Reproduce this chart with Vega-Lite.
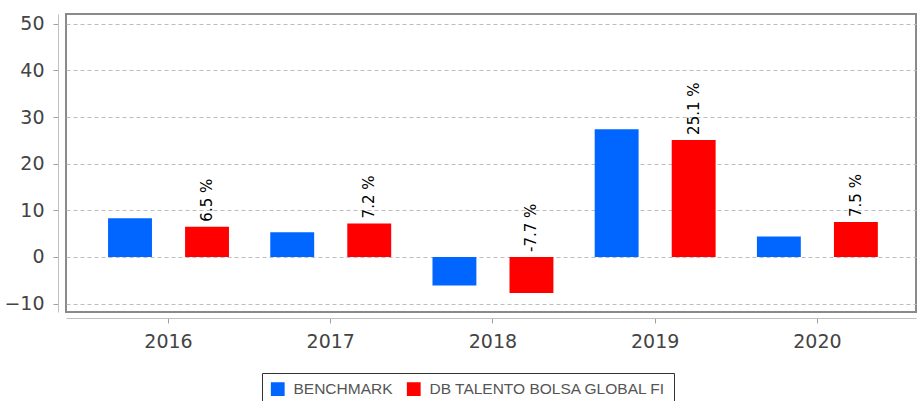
{
  "$schema": "https://vega.github.io/schema/vega-lite/v6.json",
  "width": 850,
  "height": 298,
  "autosize": {"type": "none"},
  "padding": {"left": 66, "top": 14, "right": 1, "bottom": 89},
  "background": "white",
  "config": {
    "view": {"stroke": "#8a8a8a", "strokeWidth": 2},
    "font": "DejaVu Sans"
  },
  "data": {
    "values": [
      {"year": "2016", "series": "BENCHMARK", "value": 8.3, "label": "8.3 %"},
      {"year": "2016", "series": "DB TALENTO BOLSA GLOBAL FI", "value": 6.5, "label": "6.5 %"},
      {"year": "2017", "series": "BENCHMARK", "value": 5.3, "label": "5.3 %"},
      {"year": "2017", "series": "DB TALENTO BOLSA GLOBAL FI", "value": 7.2, "label": "7.2 %"},
      {"year": "2018", "series": "BENCHMARK", "value": -6.1, "label": "-6.1 %"},
      {"year": "2018", "series": "DB TALENTO BOLSA GLOBAL FI", "value": -7.7, "label": "-7.7 %"},
      {"year": "2019", "series": "BENCHMARK", "value": 27.4, "label": "27.4 %"},
      {"year": "2019", "series": "DB TALENTO BOLSA GLOBAL FI", "value": 25.1, "label": "25.1 %"},
      {"year": "2020", "series": "BENCHMARK", "value": 4.4, "label": "4.4 %"},
      {"year": "2020", "series": "DB TALENTO BOLSA GLOBAL FI", "value": 7.5, "label": "7.5 %"}
    ]
  },
  "encoding": {
    "x": {
      "field": "year",
      "type": "nominal",
      "scale": {"paddingInner": 0, "paddingOuter": 0.12, "align": 0.55},
      "axis": {
        "title": null,
        "labelAngle": 0,
        "offset": 6,
        "tickSize": 5,
        "labelPadding": 9,
        "domainColor": "#c0c0c0",
        "tickColor": "#a0a0a0",
        "labelFontSize": 19,
        "labelFont": "DejaVu Sans",
        "labelColor": "#444444",
        "grid": false
      }
    },
    "xOffset": {
      "field": "series",
      "type": "nominal",
      "scale": {"paddingInner": 0.43, "paddingOuter": 0.268}
    }
  },
  "layer": [
    {
      "mark": {"type": "bar"},
      "encoding": {
        "y": {
          "field": "value",
          "type": "quantitative",
          "scale": {"domain": [-11.8, 52.1], "nice": false, "zero": false},
          "axis": {
            "title": null,
            "values": [-10, 0, 10, 20, 30, 40, 50],
            "offset": 8,
            "tickSize": 5,
            "labelPadding": 9,
            "domainColor": "#c0c0c0",
            "tickColor": "#a0a0a0",
            "labelFontSize": 19,
            "labelFont": "DejaVu Sans",
            "labelColor": "#444444",
            "grid": true,
            "gridColor": "#bdbdbd",
            "gridDash": [4, 3],
            "gridWidth": 1
          }
        },
        "color": {
          "field": "series",
          "type": "nominal",
          "scale": {
            "domain": ["BENCHMARK", "DB TALENTO BOLSA GLOBAL FI"],
            "range": ["#0066ff", "#ff0000"]
          },
          "legend": {
            "title": null,
            "orient": "none",
            "direction": "horizontal",
            "legendX": 196,
            "legendY": 359,
            "strokeColor": "#333333",
            "padding": 8,
            "symbolType": "square",
            "symbolSize": 190,
            "symbolStrokeWidth": 0,
            "labelFont": "Liberation Sans",
            "labelFontSize": 15.5,
            "labelColor": "#555555",
            "labelOffset": 8,
            "labelLimit": 0,
            "columnPadding": 13
          }
        }
      }
    },
    {
      "transform": [{"filter": "datum.series == 'DB TALENTO BOLSA GLOBAL FI' && datum.value >= 0"}],
      "mark": {"type": "text", "angle": 270, "align": "left", "baseline": "middle", "dx": 5, "fontSize": 15, "font": "DejaVu Sans", "color": "#000000"},
      "encoding": {
        "y": {"field": "value", "type": "quantitative"},
        "text": {"field": "label", "type": "nominal"}
      }
    },
    {
      "transform": [{"filter": "datum.series == 'DB TALENTO BOLSA GLOBAL FI' && datum.value < 0"}],
      "mark": {"type": "text", "angle": 270, "align": "left", "baseline": "middle", "dx": 5, "fontSize": 15, "font": "DejaVu Sans", "color": "#000000"},
      "encoding": {
        "y": {"datum": 0, "type": "quantitative"},
        "text": {"field": "label", "type": "nominal"}
      }
    }
  ]
}
